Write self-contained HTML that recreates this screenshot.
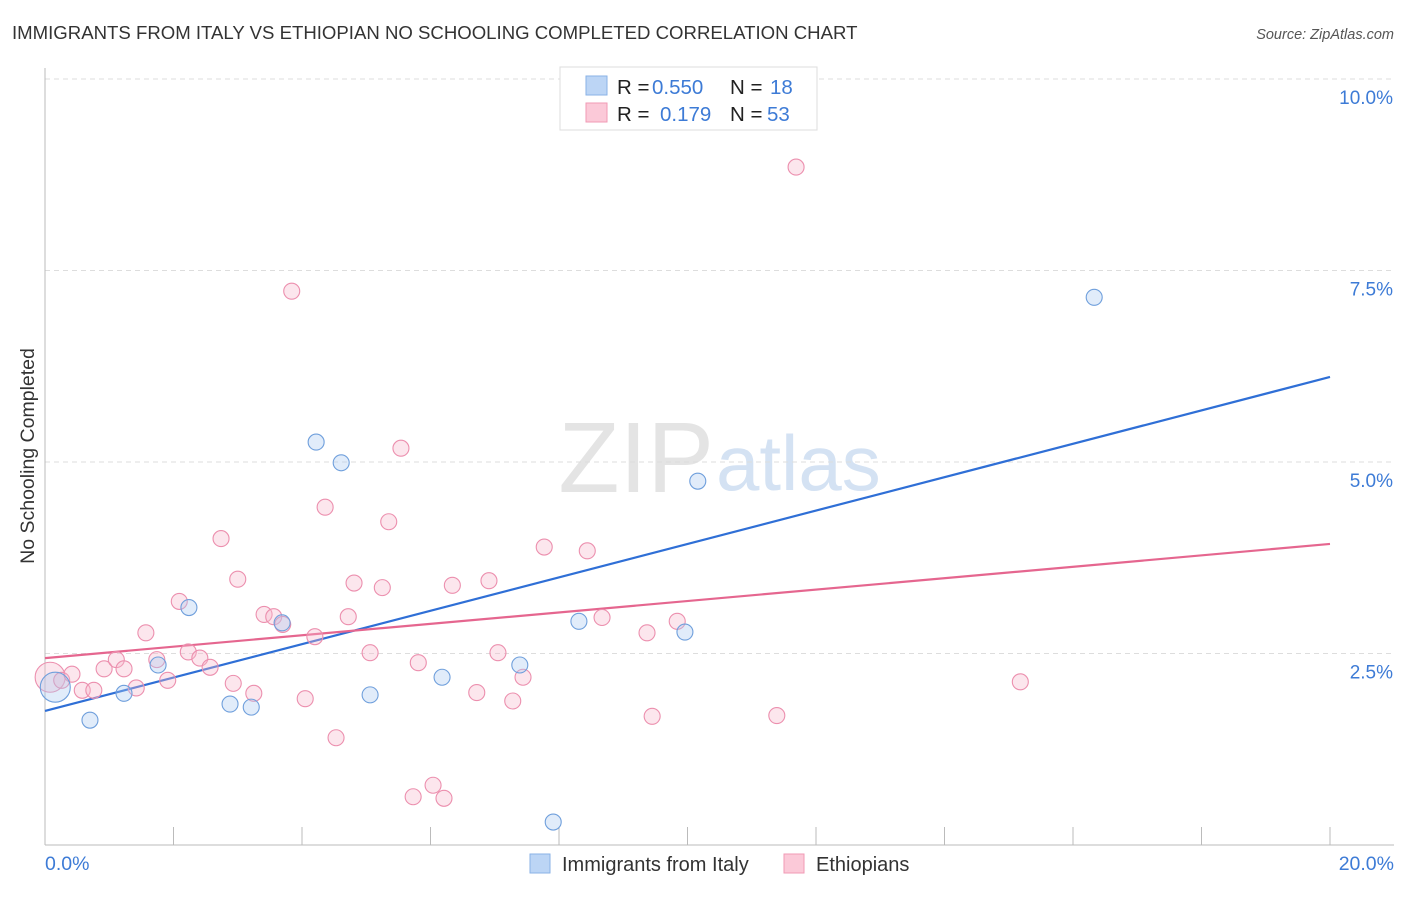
<!DOCTYPE html>
<html><head><meta charset="utf-8"><style>
body{margin:0;background:#fff;font-family:"Liberation Sans",sans-serif;}
svg text{font-family:"Liberation Sans",sans-serif;}
</style></head><body>
<svg id="chart" width="1406" height="892" xmlns="http://www.w3.org/2000/svg">
<text x="12" y="39" font-size="18.6" fill="#333">IMMIGRANTS FROM ITALY VS ETHIOPIAN NO SCHOOLING COMPLETED CORRELATION CHART</text>
<text x="1394" y="39" font-size="14.5" fill="#555" font-style="italic" text-anchor="end">Source: ZipAtlas.com</text>
<text x="714" y="492" font-size="100" fill="#e4e4e4" font-family="Liberation Serif" text-anchor="end">ZIP</text>
<text x="716" y="490" font-size="78" fill="#d4e2f3">atlas</text>
<g id="grid"></g>
<g id="axes"></g>
<g id="lines"></g>
<g id="points"></g>
<text x="34" y="456" font-size="19.5" fill="#333" text-anchor="middle" transform="rotate(-90 34 456)">No Schooling Completed</text>
<text x="45" y="870" font-size="19.5" fill="#3d7bd6">0.0%</text>
<text x="1394" y="870" font-size="19.5" fill="#3d7bd6" text-anchor="end">20.0%</text>
<g>
<rect x="560" y="67" width="257" height="63" fill="#fff" stroke="#ddd"/>
<rect x="586" y="76" width="21" height="19" fill="#bcd5f5" stroke="#8ab2e6"/>
<rect x="586" y="103" width="21" height="19" fill="#fbc9d8" stroke="#f09ab5"/>
<text x="617" y="94" font-size="20.5" fill="#222">R = <tspan fill="#3d7bd6" x="652">0.550</tspan></text>
<text x="730" y="94" font-size="20.5" fill="#222">N = <tspan fill="#3d7bd6" x="770">18</tspan></text>
<text x="617" y="121" font-size="20.5" fill="#222">R = <tspan fill="#3d7bd6" x="660">0.179</tspan></text>
<text x="730" y="121" font-size="20.5" fill="#222">N = <tspan fill="#3d7bd6" x="767">53</tspan></text>
</g>
<g>
<rect x="530" y="854" width="20" height="19" fill="#bcd5f5" stroke="#8ab2e6"/>
<text x="562" y="871" font-size="20" fill="#333">Immigrants from Italy</text>
<rect x="784" y="854" width="20" height="19" fill="#fbc9d8" stroke="#f09ab5"/>
<text x="816" y="871" font-size="20" fill="#333">Ethiopians</text>
</g>
</svg>
<script>
const yTicks=[2.5,5.0,7.5,10.0];
const yTickLabels=["2.5%","5.0%","7.5%","10.0%"];
const xTicks=[0,2,4,6,8,10,12,14,16,18,20];
const italyX=[0.16,0.70,1.23,1.76,2.24,2.88,3.21,3.69,4.22,4.61,5.06,6.18,7.39,7.91,8.31,9.96,10.16,16.33];
const italyY=[2.06,1.63,1.98,2.35,3.10,1.84,1.80,2.90,5.26,4.99,1.96,2.19,2.35,0.30,2.92,2.78,4.75,7.15];
const ethX=[0.08,0.26,0.42,0.58,0.76,0.92,1.11,1.23,1.42,1.57,1.74,1.91,2.09,2.23,2.41,2.57,2.74,2.93,3.00,3.25,3.41,3.56,3.70,3.84,4.05,4.20,4.36,4.53,4.72,4.81,5.06,5.25,5.35,5.54,5.73,5.81,6.04,6.21,6.34,6.72,6.91,7.05,7.28,7.44,7.77,8.44,8.67,9.37,9.45,9.84,11.39,11.69,15.18];
const ethY=[2.19,2.15,2.23,2.02,2.02,2.30,2.42,2.30,2.05,2.77,2.42,2.15,3.18,2.52,2.44,2.32,4.00,2.11,3.47,1.98,3.01,2.98,2.88,7.23,1.91,2.72,4.41,1.40,2.98,3.42,2.51,3.36,4.22,5.18,0.63,2.38,0.78,0.61,3.39,1.99,3.45,2.51,1.88,2.19,3.89,3.84,2.97,2.77,1.68,2.92,1.69,8.85,2.13];
const italyTrend=[1.75,6.11];
const ethTrend=[2.44,3.93];
const NS="http://www.w3.org/2000/svg";
const X=v=>45+v*64.25, Y=v=>845-v*76.6;
function mk(t,a,p){const e=document.createElementNS(NS,t);for(const k in a)e.setAttribute(k,a[k]);document.getElementById(p).appendChild(e);return e;}
yTicks.forEach((t,i)=>{
 const g=mk('line',{x1:45,x2:1394,y1:Y(t),y2:Y(t),stroke:'#ddd','stroke-dasharray':'5,4'},'grid');
 
 
 const l=mk('text',{x:1393,y:Y(t)+25,'font-size':19,fill:'#3d7bd6','text-anchor':'end'},'axes');
 l.textContent=yTickLabels[i];
 
 
});
const ax=mk('line',{x1:45,x2:45,y1:68,y2:845,stroke:'#bbb'},'axes');


const bx=mk('line',{x1:45,x2:1394,y1:845,y2:845,stroke:'#bbb'},'axes');


xTicks.forEach(t=>{
 const k=mk('line',{x1:X(t),x2:X(t),y1:827,y2:845,stroke:'#bbb'},'axes');
 
 
});
function pts(xs,ys,fill,stroke,name){
 xs.forEach((x,i)=>{
  const c=mk('circle',{cx:X(x),cy:Y(ys[i]),r:i===0?15:8,fill:fill,'fill-opacity':0.35,stroke:stroke,'stroke-width':1.1},'points');
  
  
 });
}
pts(ethX,ethY,'#f7b8cc','#ec8fae','ethiopians-point');
pts(italyX,italyY,'#a9c9f0','#6f9fdc','italy-point');
const l1=mk('line',{x1:X(0),x2:X(20),y1:Y(italyTrend[0]),y2:Y(italyTrend[1]),stroke:'#2f6fd6','stroke-width':2.2},'lines');


const l2=mk('line',{x1:X(0),x2:X(20),y1:Y(ethTrend[0]),y2:Y(ethTrend[1]),stroke:'#e5668f','stroke-width':2.2},'lines');


</script>
</body></html>
